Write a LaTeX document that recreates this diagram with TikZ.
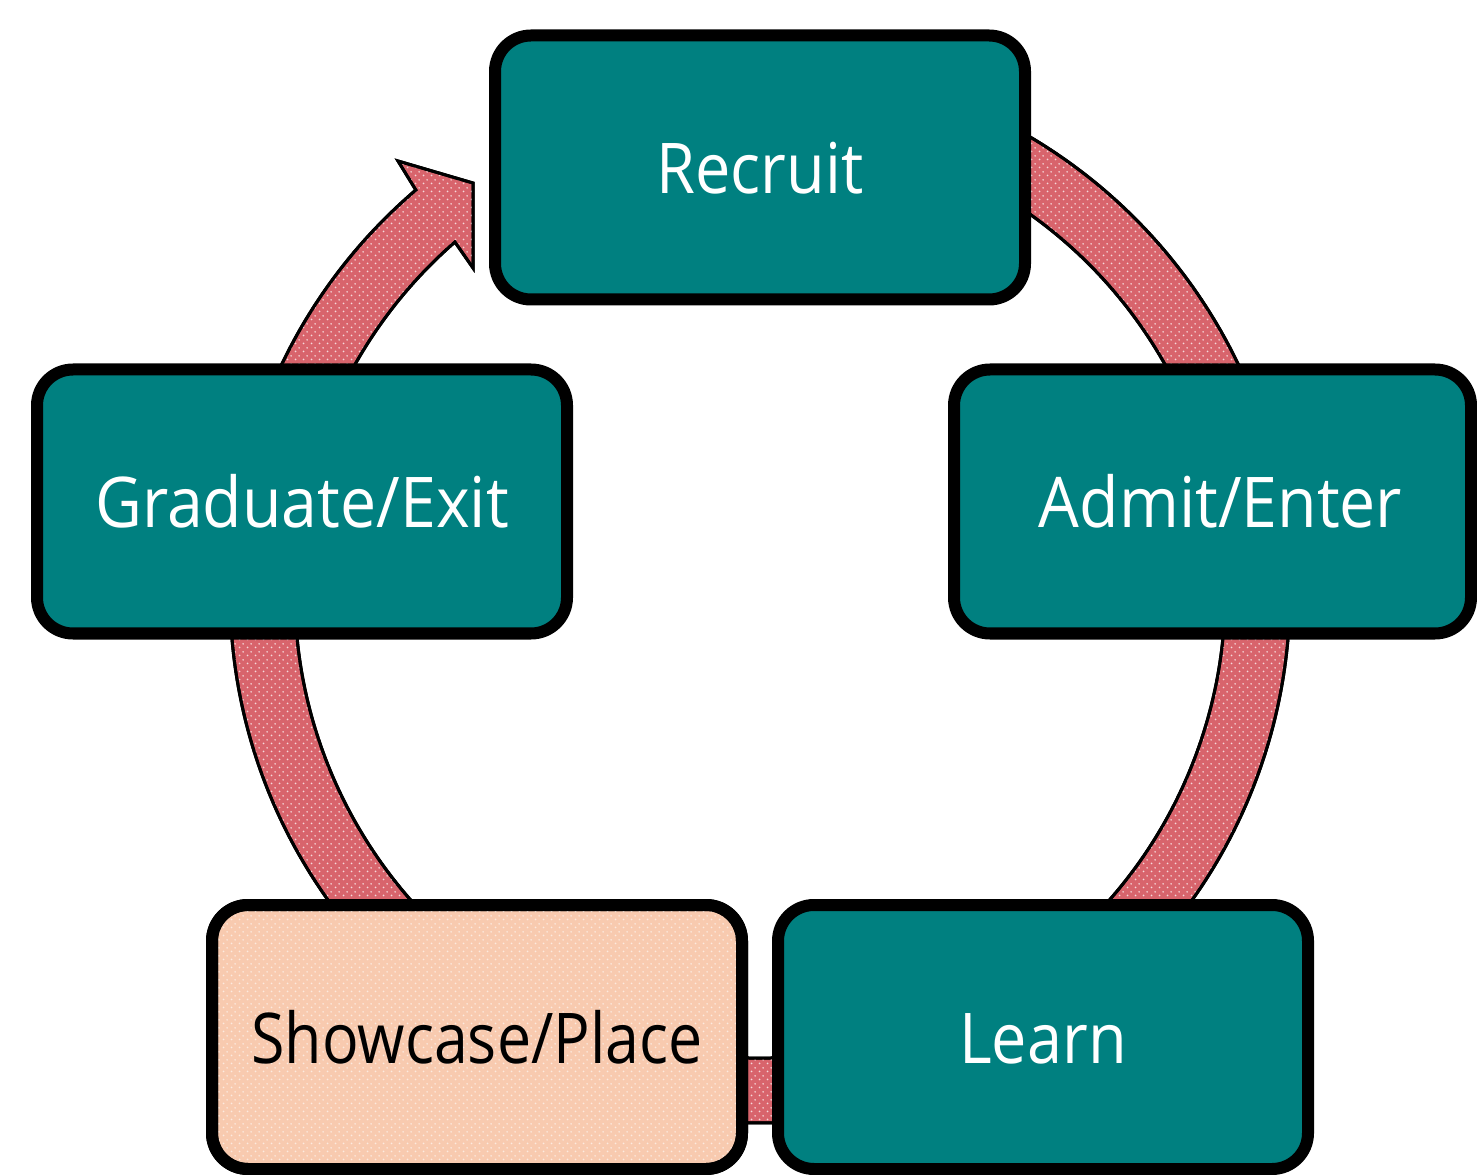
\documentclass[tikz,border=0pt]{standalone}
\usepackage{fontspec}
\setmainfont{Open Sans}
\usetikzlibrary{calc,patterns.meta}
\definecolor{tealbox}{RGB}{0,128,128}
\definecolor{ringred}{RGB}{216,100,108}
\definecolor{peach}{RGB}{248,202,175}
\tikzdeclarepattern{
  name=sparsedots,
  type=uncolored,
  bounding box={(-2pt,-2pt) and (2pt,2pt)},
  tile size={(4pt,4pt)},
  code={\fill (0pt,0pt) circle (0.55pt); \fill (2pt,2pt) circle (0.55pt);}
}
\begin{document}
\begin{tikzpicture}[x=0.5pt,y=0.5pt,
  box/.style={draw=black, line width=6pt, rounded corners=18pt, fill=tealbox,
    text=white, minimum width=265pt, minimum height=132pt, inner sep=0pt,
    font=\fontsize{35}{42}\selectfont, text height=26pt, text depth=0pt},
  peachbox/.style={box, fill=peach, text=black,
    postaction={pattern={sparsedots}, pattern color=white!60!peach},
    postaction={draw=black, line width=6pt}},
  ring/.style={draw=black, line width=1.5pt, fill=ringred,
    postaction={pattern={sparsedots}, pattern color=white!75!ringred},
    postaction={draw=black, line width=1.5pt}}]
\useasboundingbox (0,0) rectangle (1477,1174);
\coordinate (C) at (760,581);
\coordinate (hA) at (473,906);
\coordinate (hB) at (473,991);
\coordinate (hC) at (398,1013);
\draw[ring] ($(C)+(130.5:530)$) arc[start angle=130.5, end angle=430, radius=265pt]
  -- ($(C)+(70:465)$) arc[start angle=430, end angle=131, radius=232.5pt]
  -- (hA) -- (hB) -- (hC) -- cycle;
\node[box] (recruit) at (760,1006.5) {\scalebox{0.9}[1]{Recruit}};
\node[box] (graduate) at (302,672.5) {\scalebox{0.92}[1]{Graduate/Exit}};
\node[box, minimum width=258.5pt] (admit) at (1212.5,672.5) {\hspace{8pt}\scalebox{0.92}[1]{Admit/Enter}};
\node[peachbox] (showcase) at (477,137) {\scalebox{0.87}[1]{Showcase/Place}};
\node[box] (learn) at (1043,137) {\scalebox{0.9}[1]{Learn}};
\end{tikzpicture}
\end{document}
